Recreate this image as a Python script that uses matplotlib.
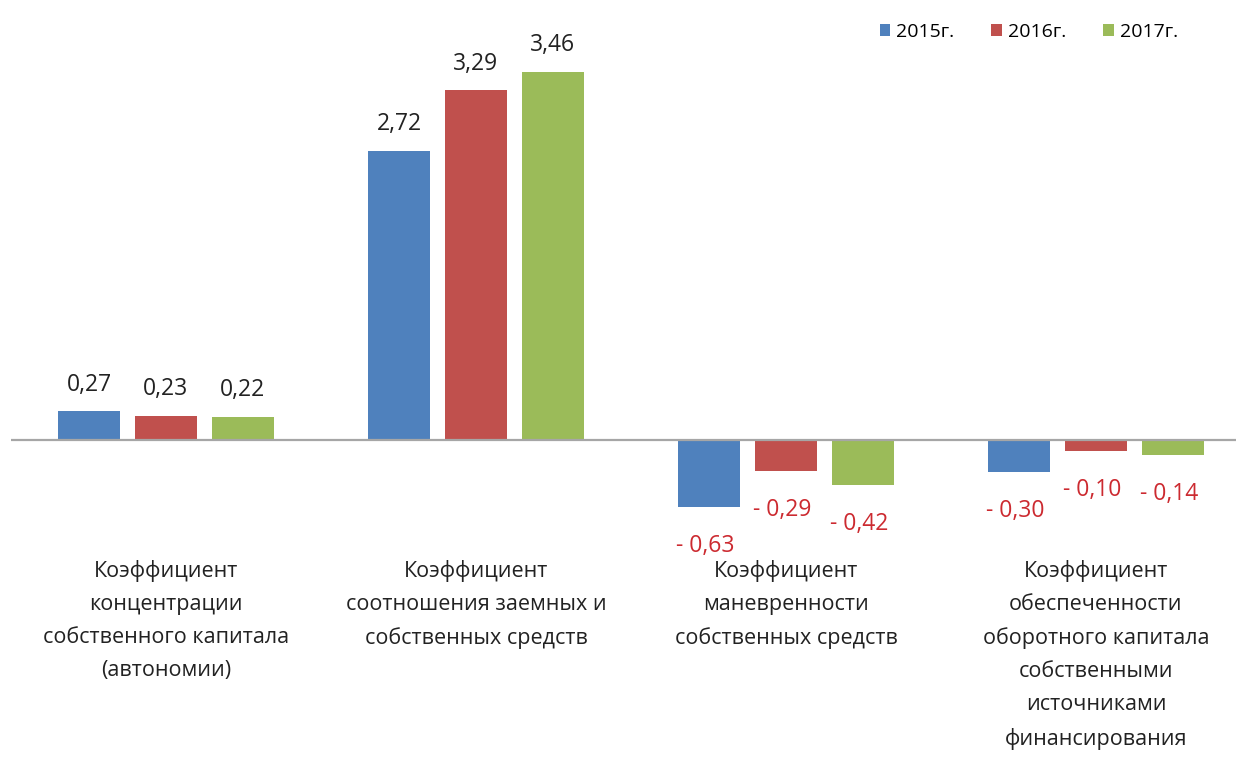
import numpy as np
import matplotlib.pyplot as plt

plt.rcParams['font.family'] = ['Open Sans', 'DejaVu Sans']

categories = [
    "Коэффициент\nконцентрации\nсобственного капитала\n(автономии)",
    "Коэффициент\nсоотношения заемных и\nсобственных средств",
    "Коэффициент\nманевренности\nсобственных средств",
    "Коэффициент\nобеспеченности\nоборотного капитала\nсобственными\nисточниками\nфинансирования",
]
years = ["2015г.", "2016г.", "2017г."]
v2015 = [0.27, 2.72, -0.63, -0.30]
v2016 = [0.23, 3.29, -0.29, -0.10]
v2017 = [0.22, 3.46, -0.42, -0.14]
colors = ["#4f81bd", "#c0504d", "#9bbb59"]


def fmt(v):
    s = f"{abs(v):.2f}".replace(".", ",")
    return s if v >= 0 else "- " + s


fig = plt.figure(figsize=(12.36, 7.75), dpi=100)
ax = fig.add_axes([11 / 1236, 0, 1 - 11 / 1236, 1])

x = np.arange(len(categories))
w = 0.2
step = 0.248
for i, (vals, col, lab) in enumerate(zip([v2015, v2016, v2017], colors, years)):
    pos = x + (i - 1) * step
    ax.bar(pos, vals, width=w, color=col, label=lab)
    for p, v in zip(pos, vals):
        if v >= 0:
            ax.annotate(fmt(v), (p, v), xytext=(0, 19), textcoords="offset points",
                        ha="center", va="center", fontsize=16.5, color="#222222")
        else:
            ax.annotate(fmt(v), (p, v), xytext=(-3, -28), textcoords="offset points",
                        ha="center", va="center", fontsize=16.5, color="#cc2a30")

ax.axhline(0, color="#a6a6a6", lw=1.6)

for xi, name in zip(x, categories):
    ax.text(xi, -1.13, name, ha="center", va="top", fontsize=15.5,
            linespacing=1.74, color="#222222")

ax.set_xlim(-0.5, 3.5 - 15 / 310)
ax.set_ylim(-335 / 106.4, 440 / 106.4)
ax.axis("off")

fig.legend(loc="upper right", bbox_to_anchor=(0.967, 0.993), ncol=3, frameon=False,
           fontsize=14, handlelength=0.55, handleheight=0.55, handletextpad=0.3,
           columnspacing=1.9)

fig.savefig("out.png", dpi=100, facecolor="white")
